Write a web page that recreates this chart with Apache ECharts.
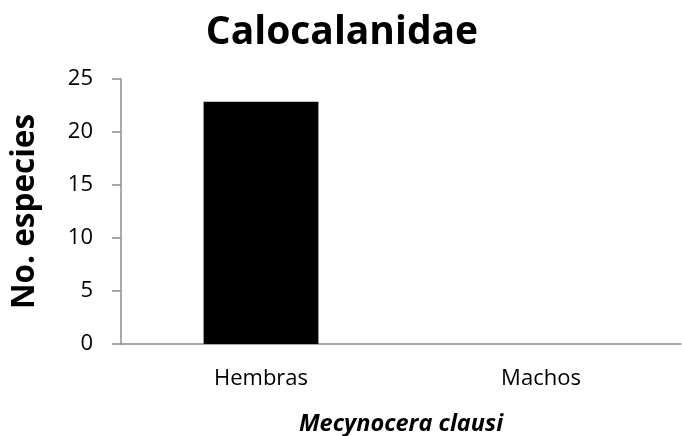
<!DOCTYPE html>
<html>
<head>
<meta charset="utf-8">
<script src="https://cdn.jsdelivr.net/npm/echarts@6/dist/echarts.min.js"></script>
<style>
    html, body { margin: 0; padding: 0; background: #fff; }
    #chart { width: 682px; height: 436px; }
</style>
</head>
<body>
<div id="chart"></div>
<script>
const categories = ['Hembras', 'Machos'];
const especies = [22.85, 0];
const yTicks = [0, 5, 10, 15, 20, 25];

const fontName = 'Open Sans';
const axisColor = '#8c8c8c';

var chart = echarts.init(document.getElementById('chart'));
chart.setOption({
    animation: false,
    backgroundColor: '#fff',
    title: {
        text: 'Calocalanidae',
        left: 337,
        top: 8,
        textAlign: 'center',
        textStyle: {
            fontFamily: fontName,
            fontSize: 39,
            fontWeight: 'bold',
            color: '#000'
        }
    },
    grid: {
        left: 121,
        right: 1,
        top: 79,
        bottom: 92,
        outerBoundsMode: 'none'
    },
    xAxis: {
        type: 'category',
        data: categories,
        axisLine: { lineStyle: { color: axisColor, width: 1.5 } },
        axisTick: { show: false },
        axisLabel: {
            fontFamily: fontName,
            fontSize: 22,
            color: '#000',
            margin: 24
        },
        name: 'Mecynocera clausi',
        nameLocation: 'middle',
        nameGap: 69,
        nameTextStyle: {
            fontFamily: fontName,
            fontSize: 23.5,
            fontWeight: 'bold',
            fontStyle: 'italic',
            color: '#000'
        }
    },
    yAxis: {
        type: 'value',
        min: yTicks[0],
        max: yTicks[yTicks.length - 1],
        interval: 5,
        splitLine: { show: false },
        axisLine: { show: true, lineStyle: { color: axisColor, width: 1.5 } },
        axisTick: { show: true, length: 9, lineStyle: { color: axisColor, width: 1.5 } },
        axisLabel: {
            fontFamily: fontName,
            fontSize: 22,
            color: '#000',
            margin: 28
        },
        name: 'No. especies',
        nameLocation: 'middle',
        nameGap: 80,
        nameTextStyle: {
            fontFamily: fontName,
            fontSize: 31.5,
            fontWeight: 'bold',
            color: '#000'
        }
    },
    series: [{
        type: 'bar',
        data: especies,
        barWidth: '41%',
        itemStyle: { color: '#000' }
    }]
});
</script>
</body>
</html>
